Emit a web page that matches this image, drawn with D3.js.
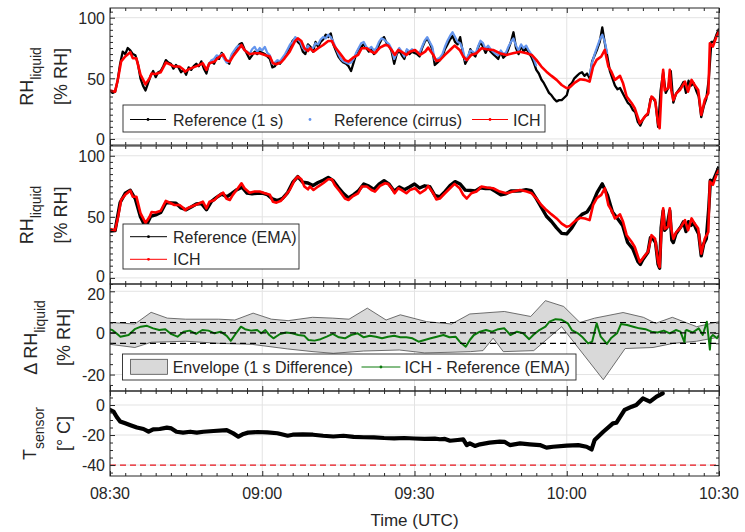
<!DOCTYPE html>
<html><head><meta charset="utf-8">
<script src="https://cdn.jsdelivr.net/npm/d3@7"></script>
<style>body{margin:0;background:#fff} svg{display:block} text{font-family:"Liberation Sans",Arial,Helvetica,sans-serif;fill:#262626}</style>
</head><body><svg id="c" width="745" height="532"></svg>
<script>
// ---- DATA (time in minutes after 08:30 UTC) ----
const timeTickLabels = ["08:30","09:00","09:30","10:00","10:30"];
const timeTickMinutes = [0,30,60,90,120];

const ich = [[0,40],[1,39],[1.6,50],[2.2,64],[3,68],[4,71.5],[4.5,66.5],[5.2,66.5],[6,53],[7,45],[7.8,50],[8.2,54],[9,53.5],[10,55],[11,63],[11.8,61.5],[12.7,59.7],[13.7,59.7],[14.4,57.5],[14.8,55.5],[15.5,57.5],[16.3,58.8],[17.3,60.5],[18.3,62.4],[19,57],[19.6,62.4],[20.6,63.8],[21.3,67],[22.3,69.8],[22.9,65],[23.6,63.8],[24.2,68],[25.2,73.4],[25.9,77.5],[26.5,73.4],[27.5,69.8],[28.5,70.7],[29.5,70.7],[30.5,69.3],[31.5,68],[32.1,62.4],[32.8,61.6],[33.7,63.2],[34.4,66.5],[35.4,72],[36.4,80.3],[37,83],[37.7,80.8],[38.3,74.8],[39,72.5],[39.4,74.8],[40.1,72],[41,74.8],[42,77.5],[43,80.8],[43.7,80.8],[44.3,76],[45.3,70.7],[46.3,65],[47,63.8],[47.9,67],[48.9,69.3],[49.6,74.8],[50.6,74.8],[51.5,72],[52.2,70.7],[53.2,75.3],[54.2,77.5],[54.8,77],[55.5,73.4],[56.1,69.3],[56.8,73.4],[57.4,72],[58.4,69.3],[59.1,72],[60.1,73.4],[61.1,69.3],[62.1,72],[62.7,75.3],[63.7,69.3],[64.3,64.3],[65,65],[66,69.3],[67,73.4],[67.9,77],[68.9,73.4],[69.6,68],[70.3,65],[71.2,69.3],[72.2,70.7],[73.2,74.8],[74.2,74],[75.5,73.4],[76.8,70.7],[78.1,69.3],[79.4,70.7],[80.8,72],[82.1,70.7],[83.1,69.3],[84,65.2],[85,59.7],[86,55.5],[87,52],[88,48.7],[89,44.5],[90,41.8],[90.6,42.6],[91.6,46.5],[92.6,49.2],[93.6,48.7],[94.5,47.3],[95.2,59.7],[95.9,65.2],[96.8,68],[97.5,73.4],[98.2,59.7],[98.8,55.5],[99.5,48.7],[100.5,52],[101.1,45.9],[101.8,35],[102.8,29.4],[103.4,25.3],[104.4,12.9],[105.4,18.4],[106,21.2],[106.7,35],[107.4,32.2],[108,12.9],[108.3,8.8],[108.7,43],[109,57],[109.3,40],[110,42],[110.3,57],[110.6,40],[111,32],[111.6,37.7],[112.3,40.4],[113.3,47.3],[113.9,39],[114.6,48.7],[115.2,44.5],[115.9,40.4],[116.5,19.8],[117.2,32.2],[117.9,37.7],[118.2,78.9],[118.8,76.2],[119.5,84.4],[120,88.5]];

const ref1s = [[0,40],[0.5,38],[1,39],[1.5,48],[2,62],[2.5,72],[3,70],[3.5,75],[4,73],[4.5,70],[5,69],[5.5,62],[6,50],[6.5,44],[7,40],[7.5,46],[8,52],[8.5,56],[9,51],[9.5,55],[10,56],[10.5,60],[11,65],[11.5,63],[12,62],[12.5,58],[13,61],[13.5,59],[14,55],[14.5,57],[15,53],[15.5,59],[16,57],[16.5,60],[17,62],[17.5,60],[18,64],[18.5,58],[19,54],[19.5,62],[20,64],[20.5,62],[21,67],[21.5,66],[22,71],[22.5,67],[23,64],[23.5,62],[24,69],[24.5,72],[25,75],[25.5,78],[26,79],[26.5,74],[27,70],[27.5,66],[28,69],[28.5,72],[29,70],[29.5,72],[30,71],[30.5,70],[31,68],[31.5,66],[32,59],[32.5,60],[33,64],[33.5,62],[34,66],[34.5,68],[35,72],[35.5,76],[36,81],[36.5,83],[37,80],[37.5,78],[38,72],[38.5,70],[39,78],[39.5,76],[40,72],[40.5,80],[41,76],[41.5,80],[42,82],[42.5,86],[43,84],[43.5,87],[44,78],[44.5,73],[45,68],[45.5,65],[46,63],[46.5,62],[47,60],[47.5,56],[48,63],[48.5,70],[49,74],[49.5,76],[50,78],[50.5,75],[51,72],[51.5,74],[52,70],[52.5,72],[53,78],[53.5,82],[54,84],[54.5,79],[55,77],[55.5,72],[56,62],[56.5,70],[57,73],[57.5,69],[58,66],[58.5,73],[59,70],[59.5,72],[60,71],[60.5,70],[61,68],[61.5,75],[62,80],[62.5,83],[63,79],[63.5,74],[64,61],[64.5,63],[65,65],[65.5,68],[66,74],[66.5,78],[67,82],[67.5,85],[68,80],[68.5,78],[69,84],[69.5,72],[70,62],[70.5,66],[71,74],[71.5,70],[72,68],[72.5,75],[73,80],[73.5,76],[74,71],[74.5,75],[75,72],[75.5,70],[76,68],[76.5,66],[77,72],[77.5,67],[78,69],[78.5,74],[79,80],[79.5,88],[80,75],[80.5,70],[81,77],[81.5,72],[82,75],[82.5,71],[83,68],[83.5,63],[84,57],[84.5,54],[85,49],[85.5,46],[86,42],[86.5,38],[87,36],[87.5,33],[88,31],[88.5,32],[89,32],[89.5,34],[90,36],[90.5,44],[91,46],[91.5,50],[92,52],[92.5,54],[93,55],[93.5,52],[94,54],[94.5,50],[95,64],[95.5,69],[96,74],[96.5,80],[97,92],[97.5,79],[98,68],[98.5,56],[99,50],[99.5,44],[100,41],[100.5,42],[101,38],[101.5,34],[102,30],[102.5,28],[103,24],[103.5,22],[104,14],[104.5,11],[105,16],[105.5,19],[106,20],[106.5,33],[107,34],[107.5,30],[108,10],[108.5,40],[109,55],[109.5,38],[110,42],[110.5,56],[111,30],[111.5,37],[112,40],[112.5,43],[113,47],[113.5,38],[114,48],[114.5,44],[115,46],[115.5,40],[116,35],[116.5,18],[117,27],[117.5,33],[118,50],[118.5,80],[119,80],[119.5,86],[120,91]];

const cirrusA = [[19,57],[19.5,61],[20,65],[20.5,66],[21,69],[21.5,68],[22,70],[22.5,66],[23,63],[23.5,64],[24,70],[24.5,73],[25,76],[25.5,77],[26,76],[26.5,73],[27,72],[27.5,70],[28,74],[28.5,76],[29,72],[29.5,75],[30,73],[30.5,76],[31,71],[31.5,69],[32,62],[32.5,63],[33,65],[33.5,64],[34,67],[34.5,70],[35,74],[35.5,78],[36,80],[36.5,84],[37,82],[37.5,80],[38,75],[38.5,73],[39,77],[39.5,74],[40,75],[40.5,79],[41,78],[41.5,82],[42,84],[42.5,83],[43,86],[43.5,84],[44,80],[44.5,75],[45,70],[45.5,66],[46,64],[46.5,63],[47,62],[47.5,63],[48,66],[48.5,71],[49,75],[49.5,79],[50,80],[50.5,76],[51,74],[51.5,76],[52,73],[52.5,75],[53,80],[53.5,83],[54,82],[54.5,80],[55,78],[55.5,74],[56,66],[56.5,71],[57,75],[57.5,72],[58,68],[58.5,74],[59,72],[59.5,74],[60,73],[60.5,72],[61,71],[61.5,76],[62,81],[62.5,84],[63,80],[63.5,76],[64,65],[64.5,66],[65,67],[65.5,70],[66,76],[66.5,81],[67,85],[67.5,88],[68,84],[68.5,80],[69,79],[69.5,74],[70,65],[70.5,68],[71,73],[71.5,72],[72,70],[72.5,76],[73,81],[73.5,79],[74,74],[74.5,77],[75,74],[75.5,72],[76,70],[76.5,69],[77,73],[77.5,70],[78,71],[78.5,76],[79,80],[79.5,83],[80,77],[80.5,73],[81,78],[81.5,75],[82,77],[82.5,73],[83,70],[83.5,66],[84,60]];
const cirrusB = [[94.5,52],[95,63],[95.5,70],[96,76],[96.5,82],[97,86],[97.5,80],[98,70]];

const refEma = [[0,38.4],[1,38.7],[2,61.7],[3,69.3],[4,71.7],[5,64.6],[6,50.1],[7,41.7],[8,50.3],[9,51.6],[10,53.5],[11,61.4],[12,61.4],[13,61.2],[14,57.3],[15,55.8],[16,58],[17,60.5],[18,60.9],[19,55.8],[20,62.6],[21,65.9],[22,68.7],[23,66.4],[24,69.2],[25,72.2],[26,74.3],[27,69.5],[28,68.9],[29,69.3],[30,69.4],[31,68.2],[32,64.7],[33,63.3],[34,65.1],[35,69.9],[36,78.2],[37,83],[38,78.3],[39,77.7],[40,75.6],[41,78.1],[42,80],[43,82.3],[44,79.6],[45,74],[46,69],[47,65.4],[48,68.2],[49,71.5],[50,76.9],[51,75.1],[52,72.4],[53,76.7],[54,79.6],[55,76.7],[56,70.9],[57,74.5],[58,72.1],[59,74.4],[60,76.9],[61,73.6],[62,75.4],[63,74.7],[64,67.6],[65,66.4],[66,70.6],[67,75.5],[68,78.8],[69,76.9],[70,71.9],[71,71.6],[72,71.2],[73,73.8],[74,73.2],[75,73.2],[76,70.7],[77,68],[78,68.9],[79,71.2],[80,71.2],[81,71.4],[82,72.3],[83,71.5],[84,64.9],[85,57.8],[86,50.5],[87,46.2],[88,41],[89,36.5],[90,36],[91,41],[92,47.9],[93,52],[94,54],[95,60.2],[96,70],[97,77],[98,68],[99,54],[100,48.6],[101,43],[102,29],[103,24],[104,13.5],[104.5,11],[105,15],[106,21],[106.5,33],[107,32],[107.5,29],[108,11],[108.3,8],[108.6,41],[109,55],[109.3,39],[109.7,41],[110.3,55],[110.7,31],[111,29],[111.5,36],[112,39],[112.5,42],[113,46],[113.5,38],[114,46],[114.5,43],[115,45],[115.5,40],[116,36],[116.5,18],[117,28],[117.5,32],[118,58],[118.3,80],[118.8,79],[119.5,86],[120,91]];

const diffIchEma = [[0,1.6],[0.44,1.4],[1.25,-0.2],[2.05,-1.8],[3.66,-1],[4.87,1.8],[6.08,3],[7.29,3.4],[8.5,2.2],[9.7,1.4],[10.9,1.8],[12.1,-0.6],[13.3,-1.8],[14.5,0.6],[15.7,1.1],[16.95,-0.5],[18.2,1.4],[19.4,1.1],[20.6,-0.2],[21.8,0.6],[23,-1.4],[23.8,-3.8],[24.6,-1],[25.8,3],[26.6,1.8],[27.8,1.1],[29,1.4],[29.8,-0.2],[30.6,1.4],[31.4,-1],[32.2,-2.6],[33.5,-0.5],[34.7,0.2],[35.9,-0.2],[37.1,-1],[38.3,-1.4],[39.1,-3.4],[40.3,-3.7],[41.5,-3],[42.7,-1.8],[43.9,-0.5],[45.1,-2.1],[46.3,-2.6],[47.5,-1],[48.8,-0.2],[50,-2.1],[51.2,-1.4],[52.4,-1.8],[53.6,-2.6],[54.8,-1.8],[56,-1.4],[57.2,-2.1],[58.4,-2.1],[59.6,-2.6],[60.8,-4.2],[62,-3.4],[63.2,-2.6],[64.4,-1.8],[65.7,-1],[66.9,-2.1],[68.1,-1.8],[68.9,-4.2],[70.1,-6.6],[70.9,-3.4],[71.7,-1],[72.9,0.6],[74.1,1.4],[75.3,0.6],[76.5,1.8],[77.7,2.2],[78.9,-1],[80.2,0.6],[81.4,-0.2],[82.6,-3],[83.4,-1],[84.6,1.4],[85.8,3],[86.6,5.4],[87.8,6.6],[89,6.3],[90.2,4.6],[91,1.4],[92.2,-0.2],[93,-1.8],[94.2,-5],[95,-4.2],[95.9,4.6],[96.7,-1.8],[97.9,-5.3],[98.7,-2.6],[99.9,-0.2],[100.7,4.3],[101.9,3.8],[103.1,3],[104.3,2.2],[105.5,1.8],[106.7,0.6],[107.9,0.2],[109.1,1.1],[110.3,-0.2],[111.5,1.4],[112.4,0.6],[113.2,-4.5],[113.4,1],[113.6,1.4],[114.8,0.2],[116,2.2],[116.8,-1],[117.6,5.4],[118,-3.4],[118.2,-8],[118.4,-2],[118.8,-1],[119.6,-2.6],[120,-1]];

const envUpper = [[0,5],[4.9,4.3],[8.1,9.9],[11.3,7.1],[14.9,6.6],[21.4,6.6],[24.6,6.2],[28.2,9.5],[31.8,6.6],[35.1,5.9],[39.9,7.5],[43.9,7.1],[47.1,6.6],[50.7,11.9],[54.4,6.2],[57.2,8.7],[62.4,5.4],[67.3,4.3],[70.9,9.1],[77.7,10.3],[82.9,7.9],[85.8,15.5],[89.4,12.7],[92.6,5],[95.5,7.1],[101.1,9.8],[105.1,7.5],[107.5,4.6],[110.8,7.5],[115.6,3],[120,5.4]];
const envLower = [[0,-5.5],[4.9,-7],[8.1,-4.5],[14.9,-4],[21.4,-5],[28,-5.5],[35,-7.7],[40,-9],[44,-9.8],[50,-8.7],[57,-8.2],[62,-9.6],[67,-9.3],[71,-9],[73.5,-8.5],[75.5,-2.5],[77.5,-9],[83.5,-8.5],[89,3],[97.2,-22.5],[101.5,-7.5],[107,-7],[111,-5],[115.6,-4],[120,-2]];
const envRefLines = [-5, 0, 5];

const tSensor = [[0,-3.3],[0.7,-4.4],[1.3,-7.8],[2,-11],[3,-12.2],[3.9,-13.3],[5.3,-15],[6.6,-16],[7.6,-17.8],[8.5,-16.2],[9.8,-16],[11.2,-15.1],[12.1,-15.6],[13.1,-17.8],[14.4,-18.4],[15.8,-17.8],[17.1,-18.4],[18.4,-17.8],[20.4,-17.3],[23,-16.7],[24.3,-18.9],[25.3,-21.1],[26.3,-19.3],[27.2,-18.4],[29,-18],[31,-18.2],[33,-18.8],[35,-20.5],[36,-19.8],[38,-19.6],[40,-19.8],[42,-20.5],[44,-21],[46,-20.5],[48,-21.2],[50,-21.5],[52,-21.6],[54,-22],[56,-22.2],[58,-22],[60,-22.3],[62,-22.5],[64,-22.4],[65,-22.8],[66,-22.6],[67,-23.8],[68.5,-23.3],[69.6,-22.9],[70.3,-26.7],[70.9,-25.6],[71.9,-27.3],[72.9,-26.2],[74.8,-25.1],[76.8,-24.4],[77.8,-24.6],[78.8,-26.7],[80.8,-25.6],[82.7,-26.2],[84.7,-26.7],[86,-28.4],[87.3,-27.8],[90,-27.1],[92.3,-26.7],[93.9,-27.8],[94.9,-29.6],[95.5,-23.3],[97.2,-17.8],[99.1,-12.2],[99.8,-11.8],[101.4,-3.3],[102.8,-1.1],[103.7,0],[105,4.4],[106.4,2.2],[107.7,5.6],[108.9,7.8]];
const tLimit = -40;

const rhTicks = [0,50,100];
const dTicks = [-20,0,20];
const tTicks = [-40,-20,0];

// ---- DRAWING ----
const svg = d3.select("#c");
const FONT = '"Liberation Sans",Arial,Helvetica,sans-serif';
const AX = "#262626";
const x = d3.scaleLinear().domain([0,120]).range([110,719]);
const X0 = 110, X1 = 719;

const panels = [
  {top:8,   bottom:145, domain:[-5,108],      ticks:rhTicks, nudge:{}},
  {top:146, bottom:284, domain:[-5,108],      ticks:rhTicks, nudge:{0:-2.5}},
  {top:284, bottom:391, domain:[-27.9,23.5],  ticks:dTicks,  nudge:{20:2.5}},
  {top:391, bottom:476, domain:[-47.3,9.33],  ticks:tTicks,  nudge:{}}
];
panels.forEach(p => p.y = d3.scaleLinear().domain(p.domain).range([p.bottom, p.top]));

const defs = svg.append("defs");
panels.forEach((p,i)=>{
  defs.append("clipPath").attr("id","clip"+i).append("rect")
    .attr("x",X0).attr("y",p.top).attr("width",X1-X0).attr("height",p.bottom-p.top);
});

function line(y){ return d3.line().x(d=>x(d[0])).y(d=>y(d[1])); }

// grids
panels.forEach((p,i)=>{
  const g = svg.append("g").attr("class","grid");
  timeTickMinutes.forEach(m=>{
    g.append("line").attr("x1",x(m)).attr("x2",x(m)).attr("y1",p.top).attr("y2",p.bottom)
      .attr("stroke","#e3e3e3").attr("stroke-width",1);
  });
  p.ticks.forEach(v=>{
    g.append("line").attr("x1",X0).attr("x2",X1).attr("y1",p.y(v)).attr("y2",p.y(v))
      .attr("stroke","#e3e3e3").attr("stroke-width",1);
  });
});

// panel 1
{
  const p = panels[0], g = svg.append("g").attr("clip-path","url(#clip0)");
  g.append("path").datum(ref1s).attr("d",line(p.y)).attr("fill","none").attr("stroke","#000").attr("stroke-width",2.3).attr("stroke-linejoin","round");
  [cirrusA,cirrusB].forEach(c=>g.append("path").datum(c).attr("d",line(p.y)).attr("fill","none").attr("stroke","#6495ed").attr("stroke-width",2.2).attr("stroke-linejoin","round"));
  g.append("path").datum(ich).attr("d",line(p.y)).attr("fill","none").attr("stroke","#ff0000").attr("stroke-width",2.6).attr("stroke-linejoin","round");
}
// panel 2
{
  const p = panels[1], g = svg.append("g").attr("clip-path","url(#clip1)");
  g.append("path").datum(refEma).attr("d",line(p.y)).attr("fill","none").attr("stroke","#000").attr("stroke-width",3.4).attr("stroke-linejoin","round");
  g.append("path").datum(ich).attr("d",line(p.y)).attr("fill","none").attr("stroke","#ff0000").attr("stroke-width",2.6).attr("stroke-linejoin","round");
}
// panel 3
{
  const p = panels[2], g = svg.append("g").attr("clip-path","url(#clip2)");
  const poly = envUpper.concat(envLower.slice().reverse());
  g.append("path").attr("d",line(p.y)(poly)+"Z").attr("fill","#d9d9d9").attr("stroke","#4d4d4d").attr("stroke-width",0.8);
  g.append("path").datum(diffIchEma).attr("d",line(p.y)).attr("fill","none").attr("stroke","#0b7a0b").attr("stroke-width",2).attr("stroke-linejoin","round");
  envRefLines.forEach(v=>{
    g.append("line").attr("x1",X0).attr("x2",X1).attr("y1",p.y(v)).attr("y2",p.y(v))
      .attr("stroke","#000").attr("stroke-width",1.2).attr("stroke-dasharray","6,4");
  });
}
// panel 4
{
  const p = panels[3], g = svg.append("g").attr("clip-path","url(#clip3)");
  g.append("line").attr("x1",X0).attr("x2",X1).attr("y1",p.y(tLimit)).attr("y2",p.y(tLimit))
    .attr("stroke","#e8141c").attr("stroke-width",1.3).attr("stroke-dasharray","6,4");
  g.append("path").datum(tSensor).attr("d",line(p.y)).attr("fill","none").attr("stroke","#000").attr("stroke-width",4.2).attr("stroke-linejoin","round").attr("stroke-linecap","round");
}

// axes (box + inward ticks)
function styleAxis(g){
  g.select(".domain").remove();
  g.selectAll("line").attr("stroke",AX).attr("stroke-width",1);
  g.selectAll("text").attr("font-size",16).attr("font-family",FONT).attr("fill",AX);
}
const minorX = d3.range(0,121,3).filter(m=>m%30!==0);
panels.forEach((p,i)=>{
  svg.append("rect").attr("x",X0).attr("y",p.top).attr("width",X1-X0).attr("height",p.bottom-p.top)
    .attr("fill","none").attr("stroke",AX).attr("stroke-width",1);
  const gt = svg.append("g").attr("transform",`translate(0,${p.top})`);
  gt.call(d3.axisTop(x).tickValues(timeTickMinutes).tickSize(-5).tickFormat("")); styleAxis(gt);
  const gt2 = svg.append("g").attr("transform",`translate(0,${p.top})`);
  gt2.call(d3.axisTop(x).tickValues(minorX).tickSize(-3).tickFormat("")); styleAxis(gt2);
  const gb = svg.append("g").attr("transform",`translate(0,${p.bottom})`);
  gb.call(d3.axisBottom(x).tickValues(timeTickMinutes).tickSize(-5).tickFormat("")); styleAxis(gb);
  const gb2 = svg.append("g").attr("transform",`translate(0,${p.bottom})`);
  gb2.call(d3.axisBottom(x).tickValues(minorX).tickSize(-3).tickFormat("")); styleAxis(gb2);
  const lo = Math.ceil(p.domain[0]/5)*5, hi = p.domain[1];
  const minorY = d3.range(lo, hi, 5).filter(v=>!p.ticks.includes(v));
  const gl = svg.append("g").attr("transform",`translate(${X0},0)`);
  gl.call(d3.axisLeft(p.y).tickValues(p.ticks).tickSize(-5).tickPadding(5).tickFormat(d=>String(d)));
  styleAxis(gl);
  gl.selectAll("text").attr("dy","0.36em").attr("y",d=>p.nudge[d]||0);
  const gl2 = svg.append("g").attr("transform",`translate(${X0},0)`);
  gl2.call(d3.axisLeft(p.y).tickValues(minorY).tickSize(-3).tickFormat("")); styleAxis(gl2);
  const gr = svg.append("g").attr("transform",`translate(${X1},0)`);
  gr.call(d3.axisRight(p.y).tickValues(p.ticks).tickSize(-5).tickFormat("")); styleAxis(gr);
  const gr2 = svg.append("g").attr("transform",`translate(${X1},0)`);
  gr2.call(d3.axisRight(p.y).tickValues(minorY).tickSize(-3).tickFormat("")); styleAxis(gr2);
});

// x tick labels
const pb = panels[3];
const gx = svg.append("g");
timeTickMinutes.forEach((m,i)=>{
  gx.append("text").attr("x",x(m)).attr("y",pb.bottom+23).attr("text-anchor","middle")
    .attr("font-size",16).text(timeTickLabels[i]);
});
svg.append("text").attr("x",(X0+X1)/2).attr("y",526).attr("text-anchor","middle").attr("font-size",17).text("Time (UTC)");

// y labels
function ylab(x1, x2, yc, main, sub, line2){
  const t = svg.append("text").attr("transform",`translate(${x1},${yc}) rotate(-90)`).attr("text-anchor","middle").attr("font-size",18);
  t.append("tspan").text(main);
  t.append("tspan").attr("font-size",14).attr("dy",8).text(sub);
  svg.append("text").attr("transform",`translate(${x2},${yc}) rotate(-90)`).attr("text-anchor","middle").attr("font-size",18).text(line2);
}
ylab(33, 66.5, (panels[0].top+panels[0].bottom)/2, "RH", "liquid", "[% RH]");
ylab(33, 66.5, (panels[1].top+panels[1].bottom)/2, "RH", "liquid", "[% RH]");
ylab(36.5, 70, (panels[2].top+panels[2].bottom)/2, "Δ RH", "liquid", "[% RH]");
ylab(36, 70, (panels[3].top+panels[3].bottom)/2, "T", "sensor", "[° C]");

// legends
function legBox(x0,y0,w,h){
  svg.append("rect").attr("x",x0).attr("y",y0).attr("width",w).attr("height",h).attr("fill","#fff").attr("stroke",AX).attr("stroke-width",0.9);
}
function legLine(x0,x1,yy,color){
  svg.append("line").attr("x1",x0).attr("x2",x1).attr("y1",yy).attr("y2",yy).attr("stroke",color).attr("stroke-width",1);
  svg.append("circle").attr("cx",(x0+x1)/2).attr("cy",yy).attr("r",1.4).attr("fill",color);
}
function legText(x0,yy,s){ svg.append("text").attr("x",x0).attr("y",yy).attr("font-size",16).text(s); }

legBox(123,105,422,27);
legLine(130,166,119.5,"#000"); legText(173,125.5,"Reference (1 s)");
svg.append("circle").attr("cx",310).attr("cy",119.5).attr("r",1.4).attr("fill","#6495ed");
legText(334,125.5,"Reference (cirrus)");
legLine(472,508,119.5,"#ff0000"); legText(513,125.5,"ICH");

legBox(123,224,176,45);
legLine(130,167,236.7,"#000"); legText(173,242.5,"Reference (EMA)");
legLine(130,167,259.3,"#ff0000"); legText(173,265,"ICH");

legBox(122.5,354,453.5,26);
svg.append("rect").attr("x",130.6).attr("y",359.3).attr("width",36.8).attr("height",15).attr("fill","#d9d9d9").attr("stroke","#4d4d4d").attr("stroke-width",0.8);
legText(172.7,373,"Envelope (1 s Difference)");
legLine(361.5,400.4,367,"#0b7a0b"); legText(404.5,373,"ICH - Reference (EMA)");
</script></body></html>
